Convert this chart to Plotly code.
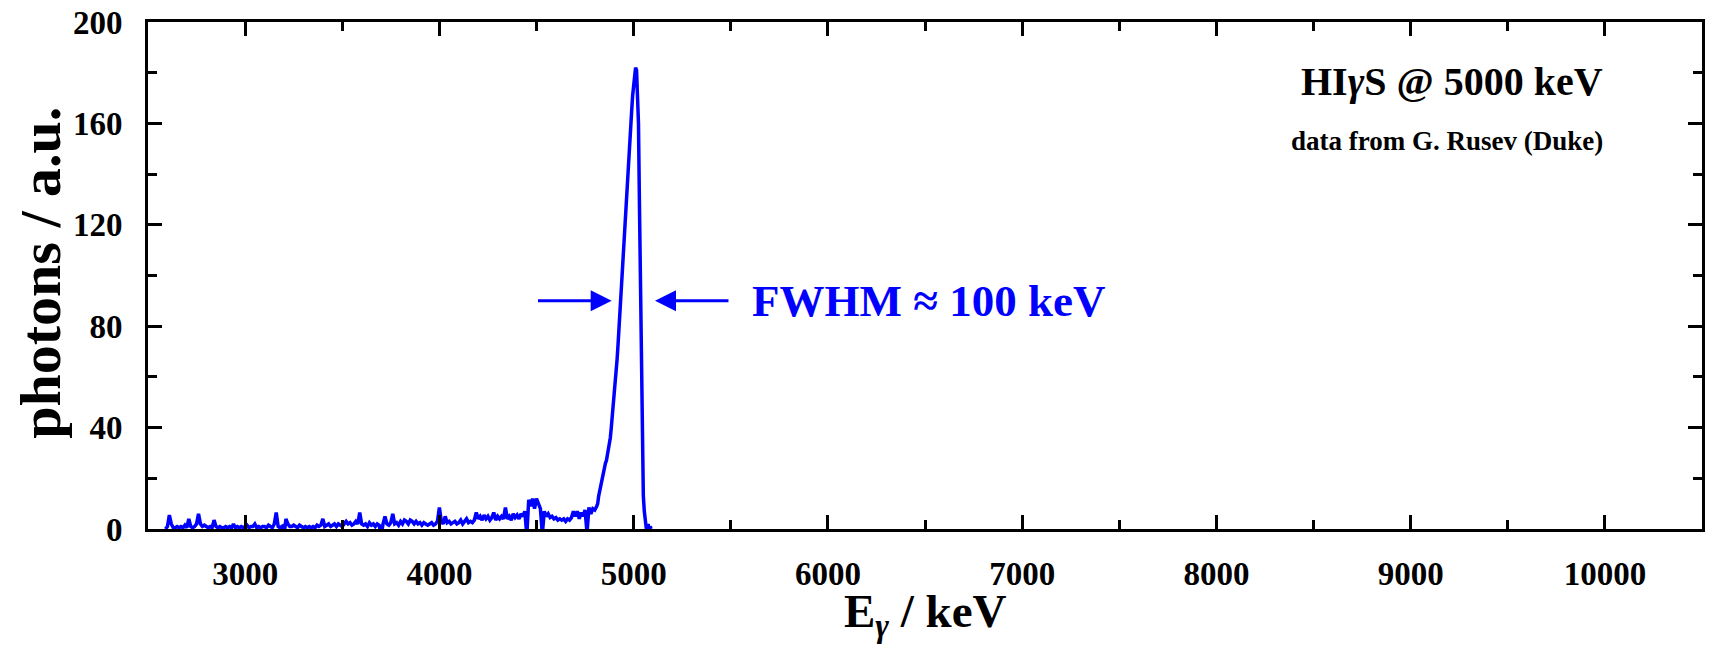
import plotly.graph_objects as go

# ---------------- data ----------------
bg_energy_keV = [
    2590, 2600, 2610, 2620, 2630, 2640, 2650, 2660, 2670, 2680,
    2690, 2700, 2710, 2720, 2730, 2740, 2750, 2760, 2770, 2780,
    2790, 2800, 2810, 2820, 2830, 2840, 2850, 2860, 2870, 2880,
    2890, 2900, 2910, 2920, 2930, 2940, 2950, 2960, 2970, 2980,
    2990, 3000, 3010, 3020, 3030, 3040, 3050, 3060, 3070, 3080,
    3090, 3100, 3110, 3120, 3130, 3140, 3150, 3160, 3170, 3180,
    3190, 3200, 3210, 3220, 3230, 3240, 3250, 3260, 3270, 3280,
    3290, 3300, 3310, 3320, 3330, 3340, 3350, 3360, 3370, 3380,
    3390, 3400, 3410, 3420, 3430, 3440, 3450, 3460, 3470, 3480,
    3490, 3500, 3510, 3520, 3530, 3540, 3550, 3560, 3570, 3580,
    3590, 3600, 3610, 3620, 3630, 3640, 3650, 3660, 3670, 3680,
    3690, 3700, 3710, 3720, 3730, 3740, 3750, 3760, 3770, 3780,
    3790, 3800, 3810, 3820, 3830, 3840, 3850, 3860, 3870, 3880,
    3890, 3900, 3910, 3920, 3930, 3940, 3950, 3960, 3970, 3980,
    3990, 4000, 4010, 4020, 4030, 4040, 4050, 4060, 4070, 4080,
    4090, 4100, 4110, 4120, 4130, 4140, 4150, 4160, 4170, 4180,
    4190, 4200, 4210, 4220, 4230, 4240, 4250, 4260, 4270, 4280,
    4290, 4300, 4310, 4320, 4330, 4340, 4350, 4360, 4370, 4380,
    4390, 4400, 4410, 4420, 4430, 4440, 4450, 4460, 4470, 4480,
    4490, 4500, 4510, 4520, 4530, 4540, 4550, 4560, 4570, 4580,
    4590, 4600, 4610, 4620, 4630, 4640, 4650, 4660, 4670, 4680,
    4690, 4700, 4710, 4720, 4730, 4740, 4750, 4760, 4770, 4780,
    4790, 4800, 4810,
]
bg_counts = [
    0, 1, 5.5, 2, 0.5, 0.5, 1, 0.5, 1, 0.5,
    1.5, 0.5, 4, 1, 0.5, 1, 2, 6, 2, 1,
    1.5, 1, 0.5, 1, 0.5, 3.5, 1, 0.5, 1, 0.5,
    0.5, 1, 0.5, 1, 0.5, 2, 0.5, 1, 0.5, 1,
    0.5, 1, 1.5, 0.5, 1, 1, 2, 0.5, 1, 0.5,
    1, 1, 0.5, 1.5, 1, 0.5, 2, 6.5, 1, 0.5,
    1, -3, 4, 2, 1, 1, 1.5, 1, 0.5, 1.5,
    1, 0.5, 1, 0.5, 1, 0.5, 1, 0.5, 1.5, 1,
    1.5, 4, 1, 1.5, 2, 1, 1.5, 2, 1, 2,
    1.5, 1, 2, 3, 2, 2.5, 1.5, 2, 3, 2,
    6.5, 2, 1.5, 2, 1, 2.5, 1.5, 2, 1, 2,
    1.5, -2.5, 2, 5, 2, 1.5, 2.5, 6, 2, 2.5,
    1.5, 3, 2, 3.5, 3, 2, 3.5, 3, 2, 3,
    2, 2.5, 1.5, 2.5, 2, 1.5, 2, 2.5, 1.5, 2,
    3, 8.5, 3, 2, 5, 2.5, 3, 2, 2.5, 3,
    2, 2.5, 3.5, 2, 3, 4, 2.5, 3, 2.5, 3.5,
    6.5, 4, 5, 3.5, 5.5, 4, 5, 3.5, 4.5, 6.5,
    3.5, 5, 4, 5, 4, 8.5, 4, 5, 3.5, 6,
    4.5, 5.5, 4, 6, 5, 7, -2.5, 11.5, 9, 12,
    8, 12, 10, 8, -2, 7, 5, 6, 4.5, 5,
    4, 4.5, 3.5, 4, 3.5, 4, 3, 4, 3.5, 4.5,
    7, 5, 7, 4, 6.5, 5, 7.5, -1.5, 8.5, 6,
    8, 7.5, 9,
]
peak_energy_keV = [
    4815, 4820, 4825, 4830, 4835, 4840, 4845, 4850, 4855, 4860,
    4865, 4870, 4875, 4880, 4885, 4890, 4895, 4900, 4905, 4910,
    4915, 4920, 4925, 4930, 4935, 4940, 4945, 4950, 4955, 4960,
    4965, 4970, 4975, 4980, 4985, 4990, 4995, 5000, 5005, 5010,
    5015, 5020, 5025, 5030, 5035, 5040, 5045, 5050, 5055, 5060,
    5065, 5070, 5075, 5080, 5085, 5090, 5095,
]
peak_counts = [
    10, 13, 15, 17, 19, 21, 22, 24, 26, 27,
    29, 31, 33, 36, 40, 44, 48, 52, 56, 61,
    67, 73, 80, 86, 93, 99, 106, 112, 119, 126,
    132, 139, 146, 152, 159, 165, 171, 176, 180, 182,
    181, 168, 160, 128, 96, 50, 28, 13, 7, 4,
    2, -3, 2, -1, 1, 0, 0,
]

x_range = [2500, 10500]
y_range = [0, 200]
x_major_ticks = [3000, 4000, 5000, 6000, 7000, 8000, 9000, 10000]
y_major_ticks = [0, 40, 80, 120, 160, 200]

fwhm_level = 90
left_arrow = (4500, 4887)    # tail, head (keV)
right_arrow = (5496, 5110)   # tail, head (keV)
fwhm_text_x = 5599

title_main = "HI<i>γ</i>S @ 5000 keV"
title_sub = "data from G. Rusev (Duke)"
fwhm_label = "FWHM ≈ 100 keV"
x_title = "E<sub><i>γ</i></sub> / keV"
y_title = "photons / a.u."

# ---------------- figure ----------------
FONT = "Liberation Serif"
BLUE = "#0000ff"

energy = bg_energy_keV + peak_energy_keV
counts = bg_counts + peak_counts

fig = go.Figure()
fig.add_trace(go.Scatter(
    x=energy, y=counts, mode="lines",
    line=dict(color=BLUE, width=3.5),
    showlegend=False, hoverinfo="skip",
))

axis_common = dict(
    showline=True, linewidth=3, linecolor="black", mirror="allticks",
    ticks="inside", ticklen=14, tickwidth=3, tickcolor="black",
    showgrid=False, zeroline=False,
    tickfont=dict(family=FONT, size=33, color="black", weight="bold"),
)

fig.update_xaxes(
    **axis_common,
    range=x_range, tickmode="array", tickvals=x_major_ticks,
    ticktext=[str(v) for v in x_major_ticks],
    minor=dict(ticks="inside", ticklen=9, tickwidth=3, tickcolor="black",
               dtick=500, tick0=0, showgrid=False),
    ticklabelstandoff=13,
)
fig.update_yaxes(
    **axis_common,
    range=y_range, tickmode="array", tickvals=y_major_ticks,
    ticktext=[str(v) for v in y_major_ticks],
    minor=dict(ticks="inside", ticklen=9, tickwidth=3, tickcolor="black",
               dtick=20, tick0=0, showgrid=False),
    ticklabelstandoff=16,
)

annotations = [
    # axis titles
    dict(x=0.5, y=-0.2308, xref="paper", yref="paper", text=x_title, showarrow=False,
         xanchor="center", yanchor="bottom",
         font=dict(family=FONT, size=47, color="black", weight="bold")),
    dict(x=-0.069, y=0.505, xref="paper", yref="paper", text=y_title, showarrow=False,
         xanchor="center", yanchor="middle", textangle=-90,
         font=dict(family=FONT, size=58, color="black", weight="bold")),
    # labels
    dict(x=10000, y=176.5, xref="x", yref="y", text=title_main, showarrow=False,
         xanchor="right", yanchor="middle",
         font=dict(family=FONT, size=40, color="black", weight="bold")),
    dict(x=10000, y=153, xref="x", yref="y", text=title_sub, showarrow=False,
         xanchor="right", yanchor="middle",
         font=dict(family=FONT, size=27, color="black", weight="bold")),
    dict(x=fwhm_text_x, y=fwhm_level, xref="x", yref="y", text=fwhm_label, showarrow=False,
         xanchor="left", yanchor="middle",
         font=dict(family=FONT, size=45, color=BLUE, weight="bold")),
    dict(x=left_arrow[1], y=fwhm_level, ax=left_arrow[0], ay=fwhm_level,
         xref="x", yref="y", axref="x", ayref="y", text="", showarrow=True,
         arrowhead=2, arrowsize=1.4, arrowwidth=3, arrowcolor=BLUE, standoff=0),
    dict(x=right_arrow[1], y=fwhm_level, ax=right_arrow[0], ay=fwhm_level,
         xref="x", yref="y", axref="x", ayref="y", text="", showarrow=True,
         arrowhead=2, arrowsize=1.4, arrowwidth=3, arrowcolor=BLUE, standoff=0),
]

fig.update_layout(
    width=1710, height=647,
    margin=dict(l=148, r=5, t=22, b=118, pad=0),
    plot_bgcolor="white", paper_bgcolor="white",
    font=dict(family=FONT, color="black"),
    annotations=annotations,
)

fig.write_html("out.html")
